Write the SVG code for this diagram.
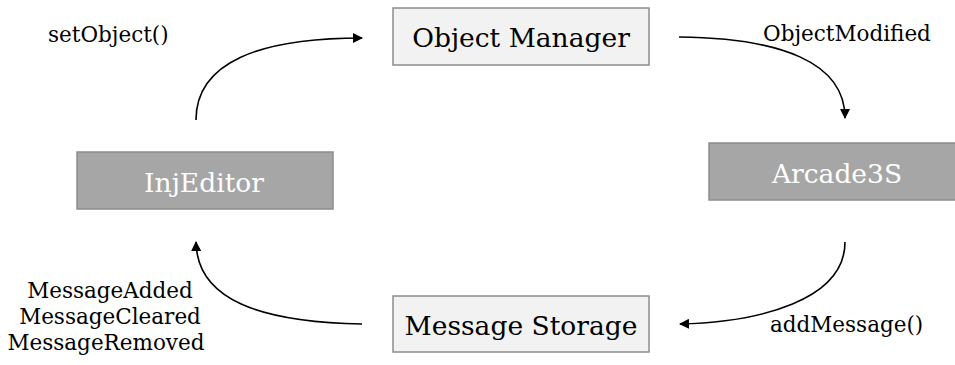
<svg xmlns="http://www.w3.org/2000/svg" width="955" height="365" viewBox="0 0 955 365">
<style>
.light{fill:#f2f2f2;stroke:#8c8c8c;stroke-width:1.5}
.dark{fill:#a6a6a6;stroke:#8c8c8c;stroke-width:1.5}
.nt{font-family:"DejaVu Serif","Liberation Serif",serif;font-size:26.5px;text-anchor:middle}
.lt{fill:#000}
.dt{fill:#fff}
.lbl{font-family:"DejaVu Serif","Liberation Serif",serif;font-size:21.5px;fill:#000}
.conn{fill:none;stroke:#000;stroke-width:1.6}
</style>
<defs>
<marker id="ah" viewBox="0 0 10 10" refX="9" refY="5" markerWidth="10" markerHeight="10" markerUnits="userSpaceOnUse" orient="auto">
<path d="M0,0 L10,5 L0,10 z" fill="#000"/>
</marker>
</defs>
<rect width="955" height="365" fill="#fff"/>
<g id="object-manager">
<rect class="light" x="393" y="8" width="256" height="57"/>
<text class="nt lt" x="521" y="47">Object Manager</text>
</g>
<g id="injeditor">
<rect class="dark" x="77" y="152" width="256" height="57"/>
<text class="nt dt" x="204" y="192">InjEditor</text>
</g>
<g id="arcade3s">
<rect class="dark" x="709" y="143" width="256" height="57"/>
<text class="nt dt" x="837" y="183">Arcade3S</text>
</g>
<g id="message-storage">
<rect class="light" x="393" y="296" width="256" height="56"/>
<text class="nt lt" x="521" y="335">Message Storage</text>
</g>
<g id="connectors">
<path class="conn" d="M196,120 C196,62 260,38 362,38" marker-end="url(#ah)"/>
<path class="conn" d="M679,37 C780,38 845,62 845,118" marker-end="url(#ah)"/>
<path class="conn" d="M845,242 C845,300 760,322 680,324" marker-end="url(#ah)"/>
<path class="conn" d="M362,324 C260,322 197,300 196,242" marker-end="url(#ah)"/>
</g>
<g id="labels">
<text class="lbl" x="48" y="42">setObject()</text>
<text class="lbl" x="763" y="41">ObjectModified</text>
<text class="lbl" x="770" y="332">addMessage()</text>
<text class="lbl" x="110" y="298" text-anchor="middle">MessageAdded</text>
<text class="lbl" x="110" y="324" text-anchor="middle">MessageCleared</text>
<text class="lbl" x="106" y="350" text-anchor="middle">MessageRemoved</text>
</g>
</svg>
